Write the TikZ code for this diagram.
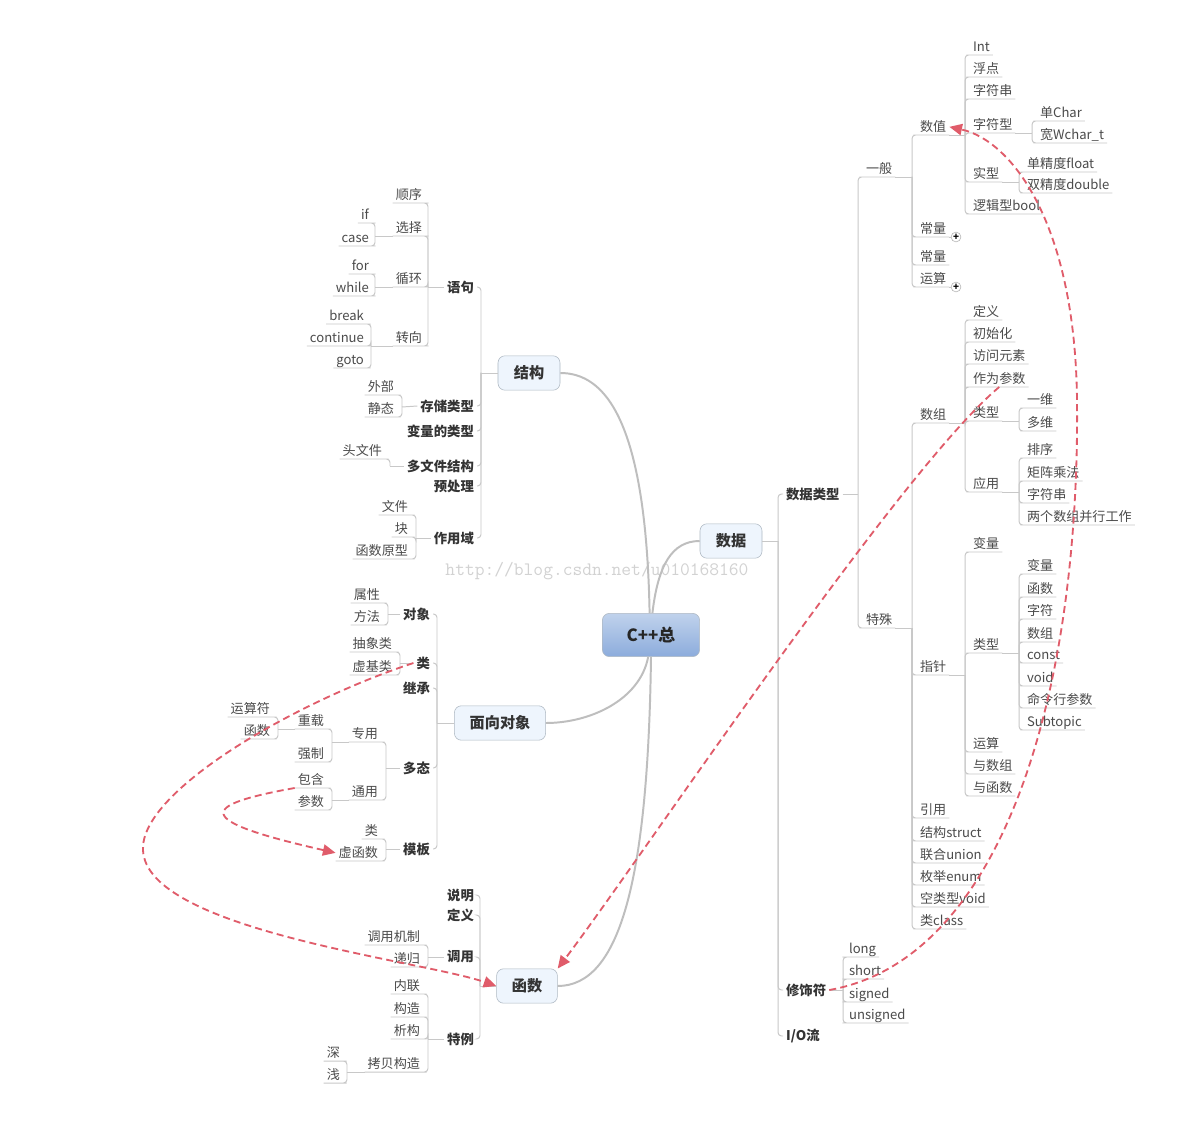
\documentclass[tikz,border=0pt]{standalone}
\usepackage{fontspec}
\setmainfont{Noto Sans CJK SC}
\usetikzlibrary{arrows.meta,positioning}
\definecolor{linkgray}{RGB}{200,200,200}
\definecolor{trunkgray}{RGB}{190,190,190}
\definecolor{refred}{RGB}{224,92,106}
\definecolor{topicfill}{RGB}{238,245,253}
\definecolor{topicdraw}{RGB}{175,185,195}
\definecolor{roottop}{RGB}{192,210,236}
\definecolor{rootbot}{RGB}{140,172,220}
\definecolor{labgray}{RGB}{75,75,75}

\begin{document}
\begin{tikzpicture}[x=0.025cm, y=-0.025cm,
  topic/.style={rectangle, draw=topicdraw, fill=topicfill, rounded corners=5pt, minimum height=0.86cm, font=\fontsize{10.8}{12}\selectfont\bfseries, text=black!80},
  root/.style={rectangle, draw=topicdraw, top color=roottop, bottom color=rootbot, rounded corners=5pt, minimum width=2.43cm, minimum height=1.08cm, font=\fontsize{12}{14}\selectfont\bfseries, text=black!85},
  lab/.style={inner xsep=2pt, inner ysep=0.6pt, text height=0.8em, text depth=0.2em, font=\fontsize{9.3}{11}\selectfont, text=labgray},
  rlab/.style={lab, anchor=south west},
  llab/.style={lab, anchor=south east},
  sub/.style={inner sep=2pt, font=\fontsize{9.5}{11}\selectfont\bfseries, text=black!80},
  rsub/.style={sub, anchor=west},
  lsub/.style={sub, anchor=east},
  link/.style={draw=linkgray, line width=0.7pt, rounded corners=2.5pt},
  trunk/.style={draw=trunkgray, line width=1.4pt},
  ref/.style={draw=refred, line width=1.3pt, dash pattern=on 5pt off 3pt, -{Triangle[length=9pt,width=8pt]}},
  fold/.style={circle, draw=gray!60, fill=white, inner sep=0pt, minimum size=7pt, font=\fontsize{7}{7}\selectfont\bfseries}
]
\useasboundingbox (0,0) rectangle (1177,1122);
\fill[white] (0,0) rectangle (1177,1122);

\node[font=\ttfamily\fontsize{13.5}{14}\selectfont, text=gray!35] (wm) at (597,571) {http://blog.csdn.net/u010168160};

% main topics
\node[root] (cpp) at (651,635) {C++总};
\node[topic, minimum width=1.55cm] (jg) at (529,373) {结构};
\node[topic, minimum width=1.55cm] (sj) at (731,541) {数据};
\node[topic, minimum width=2.28cm] (mx) at (500,723) {面向对象};
\node[topic, minimum width=1.52cm] (hs) at (527,986) {函数};

\draw[trunk] ([xshift=-1pt]cpp.north) .. controls (646,420) and (605,373) .. (jg.east);
\draw[trunk] ([xshift=1pt]cpp.north) .. controls (658,565) and (672,541) .. (sj.west);
\draw[trunk] ([xshift=-2pt]cpp.south) .. controls (640,700) and (590,723) .. (mx.east);
\draw[trunk] (cpp.south) .. controls (648,880) and (620,986) .. (hs.east);

% 数据
\coordinate (j0) at (778,541);
\draw[link] (sj.east) -- (j0);
\node[rsub] (sjlx) at (783,494) {数据类型};
\node[rsub] (xsf) at (783,990) {修饰符};
\node[rsub] (io) at (783,1036) {I/O流};
\foreach \c in {sjlx,xsf,io} \draw[link] (j0) |- (\c.west);

\coordinate (j1) at (858,494);
\draw[link] (sjlx.east) -- (j1);
\node[rlab] (yb) at (863,177) {一般};
\node[rlab] (ts) at (863,628) {特殊};
\foreach \c in {yb,ts} \draw[link] (j1) |- (\c.south west) -- (\c.south east);

\coordinate (j2) at (912,177);
\draw[link] (yb.south east) -- (j2);
\node[rlab] (sz) at (917,135) {数值};
\node[rlab] (cl) at (917,237) {常量};
\node[rlab] (clb) at (917,265) {常量};
\node[rlab] (ys) at (917,287) {运算};
\foreach \c in {sz,cl,clb,ys} \draw[link] (j2) |- (\c.south west) -- (\c.south east);
\node[fold] (zk1) at (956,237) {+};
\node[fold] (zk2) at (956,287) {+};
\draw[link] (cl.south east) -- (zk1.west);
\draw[link] (ys.south east) -- (zk2.west);

\coordinate (j3) at (965,135);
\draw[link] (sz.south east) -- (j3);
\node[rlab] (int) at (970,55) {Int};
\node[rlab] (fd) at (970,77) {浮点};
\node[rlab] (zfc) at (970,99) {字符串};
\node[rlab] (zfx) at (970,133) {字符型};
\node[rlab] (shx) at (970,182) {实型};
\node[rlab] (ljx) at (970,214) {逻辑型bool};
\foreach \c in {int,fd,zfc,zfx,shx,ljx} \draw[link] (j3) |- (\c.south west) -- (\c.south east);

\coordinate (j4) at (1032,133);
\draw[link] (zfx.south east) -- (j4);
\node[rlab] (dc) at (1037,121) {单Char};
\node[rlab] (kc) at (1037,143) {宽Wchar\_t};
\foreach \c in {dc,kc} \draw[link] (j4) |- (\c.south west) -- (\c.south east);

\coordinate (j5) at (1019,182);
\draw[link] (shx.south east) -- (j5);
\node[rlab] (df) at (1024,172) {单精度float};
\node[rlab] (sd) at (1024,193) {双精度double};
\foreach \c in {df,sd} \draw[link] (j5) |- (\c.south west) -- (\c.south east);

\coordinate (j6) at (912,628);
\draw[link] (ts.south east) -- (j6);
\node[rlab] (szu) at (917,423) {数组};
\node[rlab] (zz) at (917,675) {指针};
\node[rlab] (yy) at (917,818) {引用};
\node[rlab] (jgt) at (917,841) {结构struct};
\node[rlab] (lh) at (917,863) {联合union};
\node[rlab] (mj) at (917,885) {枚举enum};
\node[rlab] (kl) at (917,907) {空类型void};
\node[rlab] (lc) at (917,929) {类class};
\foreach \c in {szu,zz,yy,jgt,lh,mj,kl,lc} \draw[link] (j6) |- (\c.south west) -- (\c.south east);

\coordinate (j7) at (965,423);
\draw[link] (szu.south east) -- (j7);
\node[rlab] (dy) at (970,320) {定义};
\node[rlab] (csh) at (970,342) {初始化};
\node[rlab] (fw) at (970,364) {访问元素};
\node[rlab] (zwcs) at (970,387) {作为参数};
\node[rlab] (szlx) at (970,421) {类型};
\node[rlab] (yyg) at (970,492) {应用};
\foreach \c in {dy,csh,fw,zwcs,szlx,yyg} \draw[link] (j7) |- (\c.south west) -- (\c.south east);

\coordinate (j8) at (1019,421);
\draw[link] (szlx.south east) -- (j8);
\node[rlab] (yw) at (1024,408) {一维};
\node[rlab] (dw) at (1024,431) {多维};
\foreach \c in {yw,dw} \draw[link] (j8) |- (\c.south west) -- (\c.south east);

\coordinate (j9) at (1019,492);
\draw[link] (yyg.south east) -- (j9);
\node[rlab] (px) at (1024,458) {排序};
\node[rlab] (jz) at (1024,481) {矩阵乘法};
\node[rlab] (zfcb) at (1024,503) {字符串};
\node[rlab] (lg) at (1024,525) {两个数组并行工作};
\foreach \c in {px,jz,zfcb,lg} \draw[link] (j9) |- (\c.south west) -- (\c.south east);

\coordinate (j10) at (965,675);
\draw[link] (zz.south east) -- (j10);
\node[rlab] (zbl) at (970,552) {变量};
\node[rlab] (zlx) at (970,653) {类型};
\node[rlab] (zys) at (970,752) {运算};
\node[rlab] (ysz) at (970,774) {与数组};
\node[rlab] (yhs) at (970,796) {与函数};
\foreach \c in {zbl,zlx,zys,ysz,yhs} \draw[link] (j10) |- (\c.south west) -- (\c.south east);

\coordinate (j11) at (1019,653);
\draw[link] (zlx.south east) -- (j11);
\node[rlab] (tbl) at (1024,574) {变量};
\node[rlab] (ths) at (1024,597) {函数};
\node[rlab] (tzf) at (1024,619) {字符};
\node[rlab] (tsz) at (1024,642) {数组};
\node[rlab] (tcst) at (1024,663) {const};
\node[rlab] (tvd) at (1024,686) {void};
\node[rlab] (tml) at (1024,708) {命令行参数};
\node[rlab] (tsub) at (1024,730) {Subtopic};
\foreach \c in {tbl,ths,tzf,tsz,tcst,tvd,tml,tsub} \draw[link] (j11) |- (\c.south west) -- (\c.south east);

\coordinate (j12) at (843,990);
\draw[link] (xsf.east) -- (j12);
\node[rlab] (lo) at (846,957) {long};
\node[rlab] (sh) at (846,979) {short};
\node[rlab] (si) at (846,1002) {signed};
\node[rlab] (us) at (846,1023) {unsigned};
\foreach \c in {lo,sh,si,us} \draw[link] (j12) |- (\c.south west) -- (\c.south east);

% 结构
\coordinate (j20) at (481,373);
\draw[link] (jg.west) -- (j20);
\node[lsub] (yj) at (477,287) {语句};
\node[lsub] (cclx) at (477,406) {存储类型};
\node[lsub] (bllx) at (477,431) {变量的类型};
\node[lsub] (dwj) at (477,466) {多文件结构};
\node[lsub] (ycl) at (477,486) {预处理};
\node[lsub] (zyy) at (477,538) {作用域};
\foreach \c in {yj,cclx,bllx,dwj,ycl,zyy} \draw[link] (j20) |- (\c.east);

\coordinate (j21) at (428,287);
\draw[link] (yj.west) -- (j21);
\node[llab] (sx) at (425,203) {顺序};
\node[llab] (xz) at (425,236) {选择};
\node[llab] (xh) at (425,287) {循环};
\node[llab] (zx) at (425,346) {转向};
\foreach \c in {sx,xz,xh,zx} \draw[link] (j21) |- (\c.south east) -- (\c.south west);

\coordinate (j22) at (375,236);
\draw[link] (xz.south west) -- (j22);
\node[llab] (nif) at (372,223) {if};
\node[llab] (cse) at (372,246) {case};
\foreach \c in {nif,cse} \draw[link] (j22) |- (\c.south east) -- (\c.south west);

\coordinate (j23) at (375,287);
\draw[link] (xh.south west) -- (j23);
\node[llab] (nfor) at (372,274) {for};
\node[llab] (wh) at (372,296) {while};
\foreach \c in {nfor,wh} \draw[link] (j23) |- (\c.south east) -- (\c.south west);

\coordinate (j24) at (371,346);
\draw[link] (zx.south west) -- (j24);
\node[llab] (brk) at (367,324) {break};
\node[llab] (ctn) at (367,346) {continue};
\node[llab] (gt) at (367,368) {goto};
\foreach \c in {brk,ctn,gt} \draw[link] (j24) |- (\c.south east) -- (\c.south west);

\coordinate (j25) at (402,407);
\draw[link] (cclx.west) -- (j25);
\node[llab] (wb) at (397,395) {外部};
\node[llab] (jt) at (397,417) {静态};
\foreach \c in {wb,jt} \draw[link] (j25) |- (\c.south east) -- (\c.south west);

\coordinate (j26) at (390,466);
\draw[link] (dwj.west) -- (j26);
\node[llab] (twj) at (385,459) {头文件};
\draw[link] (j26) |- (twj.south east) -- (twj.south west);

\coordinate (j27) at (416,538);
\draw[link] (zyy.west) -- (j27);
\node[llab] (wj) at (411,515) {文件};
\node[llab] (kuai) at (411,537) {块};
\node[llab] (hsyx) at (411,559) {函数原型};
\foreach \c in {wj,kuai,hsyx} \draw[link] (j27) |- (\c.south east) -- (\c.south west);

% 面向对象
\coordinate (j30) at (437,723);
\draw[link] (mx.west) -- (j30);
\node[lsub] (dx) at (433,614) {对象};
\node[lsub] (lei) at (433,663) {类};
\node[lsub] (jc) at (433,688) {继承};
\node[lsub] (dt) at (433,768) {多态};
\node[lsub] (mb) at (433,849) {模板};
\foreach \c in {dx,lei,jc,dt,mb} \draw[link] (j30) |- (\c.east);

\coordinate (j31) at (388,614);
\draw[link] (dx.west) -- (j31);
\node[llab] (shux) at (383,603) {属性};
\node[llab] (ff) at (383,625) {方法};
\foreach \c in {shux,ff} \draw[link] (j31) |- (\c.south east) -- (\c.south west);

\coordinate (j32) at (400,663);
\draw[link] (lei.west) -- (j32);
\node[llab] (cxl) at (395,652) {抽象类};
\node[llab] (xjl) at (395,675) {虚基类};
\foreach \c in {cxl,xjl} \draw[link] (j32) |- (\c.south east) -- (\c.south west);

\coordinate (j33) at (386,768);
\draw[link] (dt.west) -- (j33);
\node[llab] (zy) at (381,742) {专用};
\node[llab] (ty) at (381,800) {通用};
\foreach \c in {zy,ty} \draw[link] (j33) |- (\c.south east) -- (\c.south west);

\coordinate (j34) at (332,742);
\draw[link] (zy.south west) -- (j34);
\node[llab] (cz) at (327,729) {重载};
\node[llab] (qz) at (327,762) {强制};
\foreach \c in {cz,qz} \draw[link] (j34) |- (\c.south east) -- (\c.south west);

\coordinate (j36) at (278,729);
\draw[link] (cz.south west) -- (j36);
\node[llab] (ysf) at (273,717) {运算符};
\node[llab] (czhs) at (273,739) {函数};
\foreach \c in {ysf,czhs} \draw[link] (j36) |- (\c.south east) -- (\c.south west);

\coordinate (j35) at (332,800);
\draw[link] (ty.south west) -- (j35);
\node[llab] (bh) at (327,788) {包含};
\node[llab] (csu) at (327,810) {参数};
\foreach \c in {bh,csu} \draw[link] (j35) |- (\c.south east) -- (\c.south west);

\coordinate (j37) at (386,849);
\draw[link] (mb.west) -- (j37);
\node[llab] (mlei) at (381,839) {类};
\node[llab] (xhs) at (381,861) {虚函数};
\foreach \c in {mlei,xhs} \draw[link] (j37) |- (\c.south east) -- (\c.south west);

% 函数
\coordinate (j40) at (480,986);
\draw[link] (hs.west) -- (j40);
\node[lsub] (smg) at (477,895) {说明};
\node[lsub] (hdy) at (477,915) {定义};
\node[lsub] (dyo) at (477,957) {调用};
\node[lsub] (tl) at (477,1039) {特例};
\foreach \c in {smg,hdy,dyo,tl} \draw[link] (j40) |- (\c.east);

\coordinate (j41) at (428,957);
\draw[link] (dyo.west) -- (j41);
\node[llab] (dyjz) at (423,945) {调用机制};
\node[llab] (dg) at (423,967) {递归};
\foreach \c in {dyjz,dg} \draw[link] (j41) |- (\c.south east) -- (\c.south west);

\coordinate (j42) at (428,1039);
\draw[link] (tl.west) -- (j42);
\node[llab] (nl) at (423,994) {内联};
\node[llab] (gz) at (423,1017) {构造};
\node[llab] (xg) at (423,1039) {析构};
\node[llab] (kbgz) at (423,1072) {拷贝构造};
\foreach \c in {nl,gz,xg,kbgz} \draw[link] (j42) |- (\c.south east) -- (\c.south west);

\coordinate (j43) at (347,1072);
\draw[link] (kbgz.south west) -- (j43);
\node[llab] (shen) at (343,1061) {深};
\node[llab] (qian) at (343,1083) {浅};
\foreach \c in {shen,qian} \draw[link] (j43) |- (\c.south east) -- (\c.south west);

% cross links
\draw[ref] (xsf.east) .. controls (1000,960) and (1080,700) .. (1077,400) .. controls (1075,220) and (1010,140) .. (sz.east);
\draw[ref] (zwcs.south) .. controls (900,470) and (640,860) .. (hs.north east);
\draw[ref] (lei.west) .. controls (300,700) and (140,790) .. (143,850) .. controls (146,930) and (420,960) .. (hs.west);
\draw[ref] (bh.south west) .. controls (200,805) and (190,820) .. (xhs.west);
\end{tikzpicture}
\end{document}
